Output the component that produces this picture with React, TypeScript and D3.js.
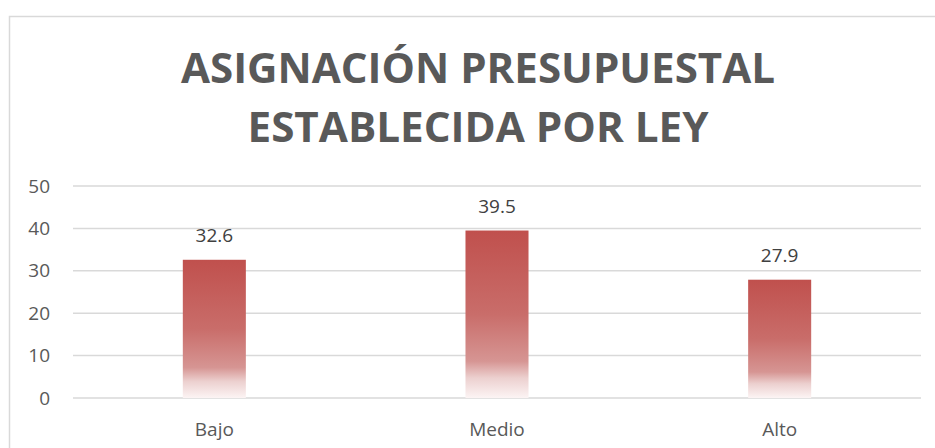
import React from "react";
import * as d3 from "d3";

const categories = ["Bajo", "Medio", "Alto"];
const values = [32.6, 39.5, 27.9];
const yTicks = [0, 10, 20, 30, 40, 50];
const titleLines = ["ASIGNACIÓN PRESUPUESTAL", "ESTABLECIDA POR LEY"];

export default function App() {
  const W = 935;
  const H = 448;
  const left = 73;
  const right = 921;
  const top = 186;
  const bottom = 398;

  const x = d3
    .scaleBand<string>()
    .domain(categories)
    .range([left, right])
    .paddingInner(0.777)
    .paddingOuter(0.3885);
  const y = d3.scaleLinear().domain([0, 50]).range([bottom, top]);
  const textColor = "#595959";
  const font = "'Open Sans', 'DejaVu Sans', sans-serif";

  return (
    <svg
      width={W}
      height={H}
      style={{ position: "absolute", left: 0, top: 0, display: "block", background: "#fff" }}
    >
      <defs>
        <linearGradient id="barGrad" x1="0" y1="0" x2="0" y2="1">
          <stop offset="0" stopColor="#c0504d" />
          <stop offset="0.5" stopColor="#c96d6a" />
          <stop offset="0.78" stopColor="#d69593" />
          <stop offset="0.88" stopColor="#ecd0cf" />
          <stop offset="1" stopColor="#fcf4f4" />
        </linearGradient>
      </defs>
      <rect x={9.5} y={16.5} width={940} height={460} fill="#fff" stroke="#d9d9d9" strokeWidth={1.5} />

      {titleLines.map((t, i) => (
        <text
          key={t}
          x={478}
          y={83 + i * 59}
          textAnchor="middle"
          fontFamily={font}
          fontWeight={700}
          fontSize={42}
          fill={textColor}
          textLength={i === 0 ? 594 : 461}
          lengthAdjust="spacingAndGlyphs"
        >
          {t}
        </text>
      ))}

      {yTicks.map((t) => (
        <g key={t}>
          <line x1={left} x2={right} y1={y(t)} y2={y(t)} stroke="#d9d9d9" strokeWidth={1.5} />
          <text
            x={50}
            y={y(t)}
            dy="0.35em"
            textAnchor="end"
            fontFamily={font}
            fontSize={19}
            fill={textColor}
          >
            {t}
          </text>
        </g>
      ))}

      {categories.map((c, i) => {
        const bx = x(c)!;
        const bw = x.bandwidth();
        const by = y(values[i]);
        return (
          <g key={c}>
            <rect x={bx} y={by} width={bw} height={bottom - by} fill="url(#barGrad)" />
            <text
              x={bx + bw / 2}
              y={by - 18}
              textAnchor="middle"
              fontFamily={font}
              fontSize={19}
              fill="#404040"
            >
              {values[i].toFixed(1)}
            </text>
            <text
              x={bx + bw / 2}
              y={436}
              textAnchor="middle"
              fontFamily={font}
              fontSize={19}
              fill={textColor}
            >
              {c}
            </text>
          </g>
        );
      })}
    </svg>
  );
}
